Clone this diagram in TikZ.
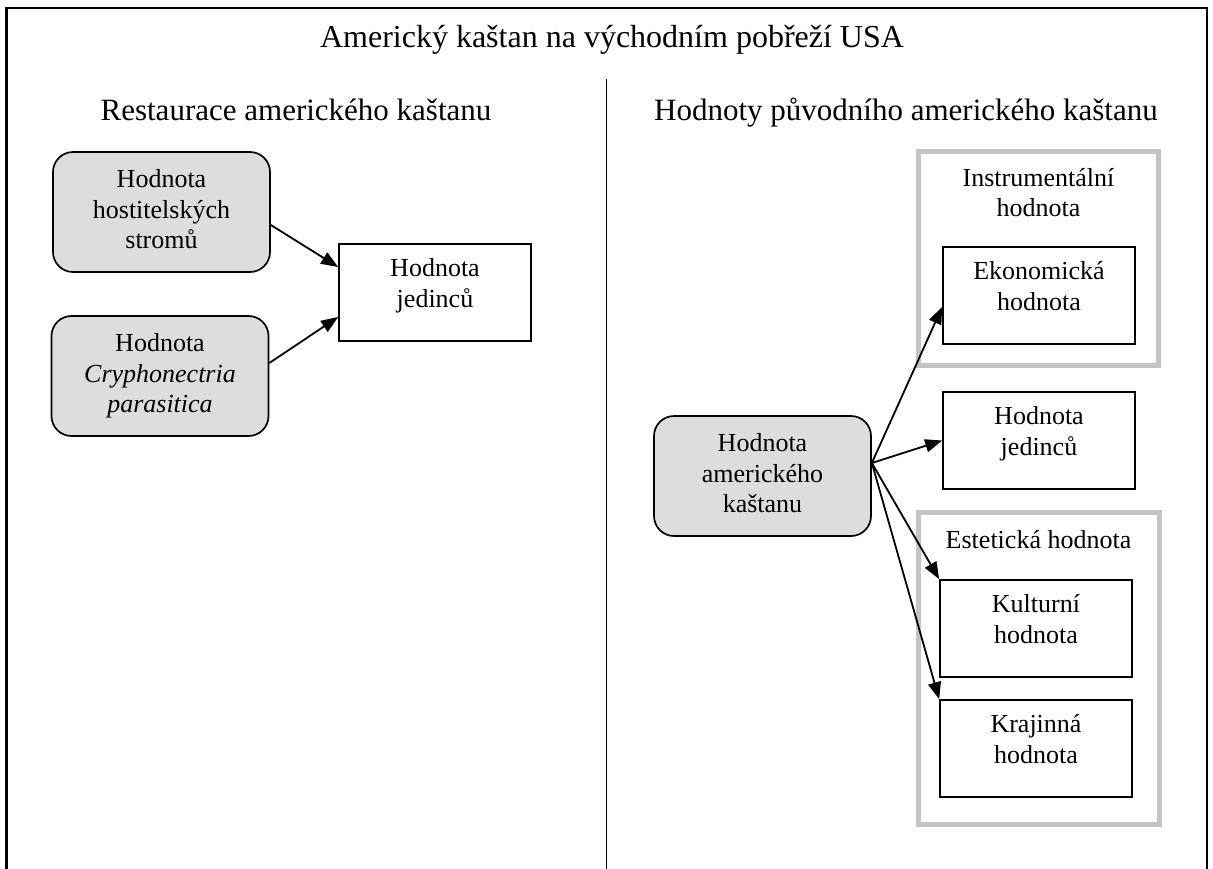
\documentclass[tikz,border=0pt]{standalone}
\usepackage{fontspec}
\setmainfont{Liberation Serif}
\usetikzlibrary{arrows.meta,calc}
\definecolor{boxfill}{RGB}{221,221,221}
\definecolor{groupline}{RGB}{196,196,196}
\begin{document}
\begin{tikzpicture}[x=1pt,y=-1pt,
  twoline/.style={font=\fontsize{26}{30.5}\selectfont, align=center,
    execute at begin node={\rule{0pt}{21pt}},
    execute at end node={\rule[-19pt]{0pt}{19pt}}},
  threeline/.style={font=\fontsize{26}{30.5}\selectfont, align=center,
    execute at begin node={\rule{0pt}{27pt}},
    execute at end node={\rule[-6pt]{0pt}{6pt}}},
  valuebox/.style={twoline, draw, line width=1.7pt, fill=white,
    minimum width=192pt, minimum height=97pt, inner sep=0pt},
  sourcebox/.style={threeline, draw, line width=1.7pt, fill=boxfill,
    rounded corners=20pt, minimum width=217pt, minimum height=120pt, inner sep=0pt},
  group/.style={draw=groupline, line width=5pt, inner sep=0pt},
  grouplabel/.style={twoline, inner sep=0pt},
  heading/.style={font=\fontsize{31}{36}\selectfont, anchor=base, inner sep=0pt},
  link/.style={line width=1.8pt, -{Triangle[length=17pt,width=13pt]}},
]
\useasboundingbox (0,0) rectangle (1213,868);

% outer frame (open at the bottom) and the column divider
\draw[line width=2.2pt] (6.5,872) -- (6.5,8) -- (1207,8) -- (1207,872);
\draw[line width=1.8pt] (606.5,79) -- (606.5,872);

% headings
\node[heading, font=\fontsize{32}{38}\selectfont] (title) at (612,47)
  {Americký kaštan na východním pobřeží USA};
\node[heading] (lefthead) at (296,120) {Restaurace amerického kaštanu};
\node[heading] (righthead) at (906,120) {Hodnoty původního amerického kaštanu};

% left column: restoration
\node[sourcebox] (host) at (161.5,212) {Hodnota\\hostitelských\\stromů};
\node[sourcebox] (blight) at (160,376)
  {Hodnota\\\textit{Cryphonectria}\\\textit{parasitica}};
\node[valuebox] (indivL) at (435,292.5) {Hodnota\\jedinců};

\draw[link] ($(host.east)+(0,13)$) -- ($(indivL.west)+(0,-25.5)$);
\draw[link] ($(blight.east)+(0,-13)$) -- ($(indivL.west)+(0,24.5)$);

% right column: values of the original chestnut
\node[group, minimum width=240pt, minimum height=213.5pt] (instrgroup) at (1038.5,258.25) {};
\node[grouplabel] (instrlabel) at (1038.5,202) {Instrumentální\\hodnota};
\node[group, minimum width=240.5pt, minimum height=312pt] (estgroup) at (1038.75,668.5) {};
\node[heading, font=\fontsize{26}{30.5}\selectfont] (estlabel) at (1038.5,548.5) {Estetická hodnota};

\node[sourcebox] (amer) at (762.5,476) {Hodnota\\amerického\\kaštanu};
\node[valuebox] (econ) at (1039,295.5) {Ekonomická\\hodnota};
\node[valuebox] (indivR) at (1039,440.5) {Hodnota\\jedinců};
\node[valuebox] (culture) at (1036,628.5) {Kulturní\\hodnota};
\node[valuebox] (landscape) at (1036,748.5) {Krajinná\\hodnota};

\coordinate (fan) at ($(amer.east)+(0,-13)$);
\draw[link] (fan) -- ($(econ.west)+(0,11.5)$);
\draw[link] (fan) -- (indivR.west);
\draw[link] (fan) -- (culture.north west);
\draw[link] (fan) -- (landscape.north west);
\end{tikzpicture}
\end{document}
